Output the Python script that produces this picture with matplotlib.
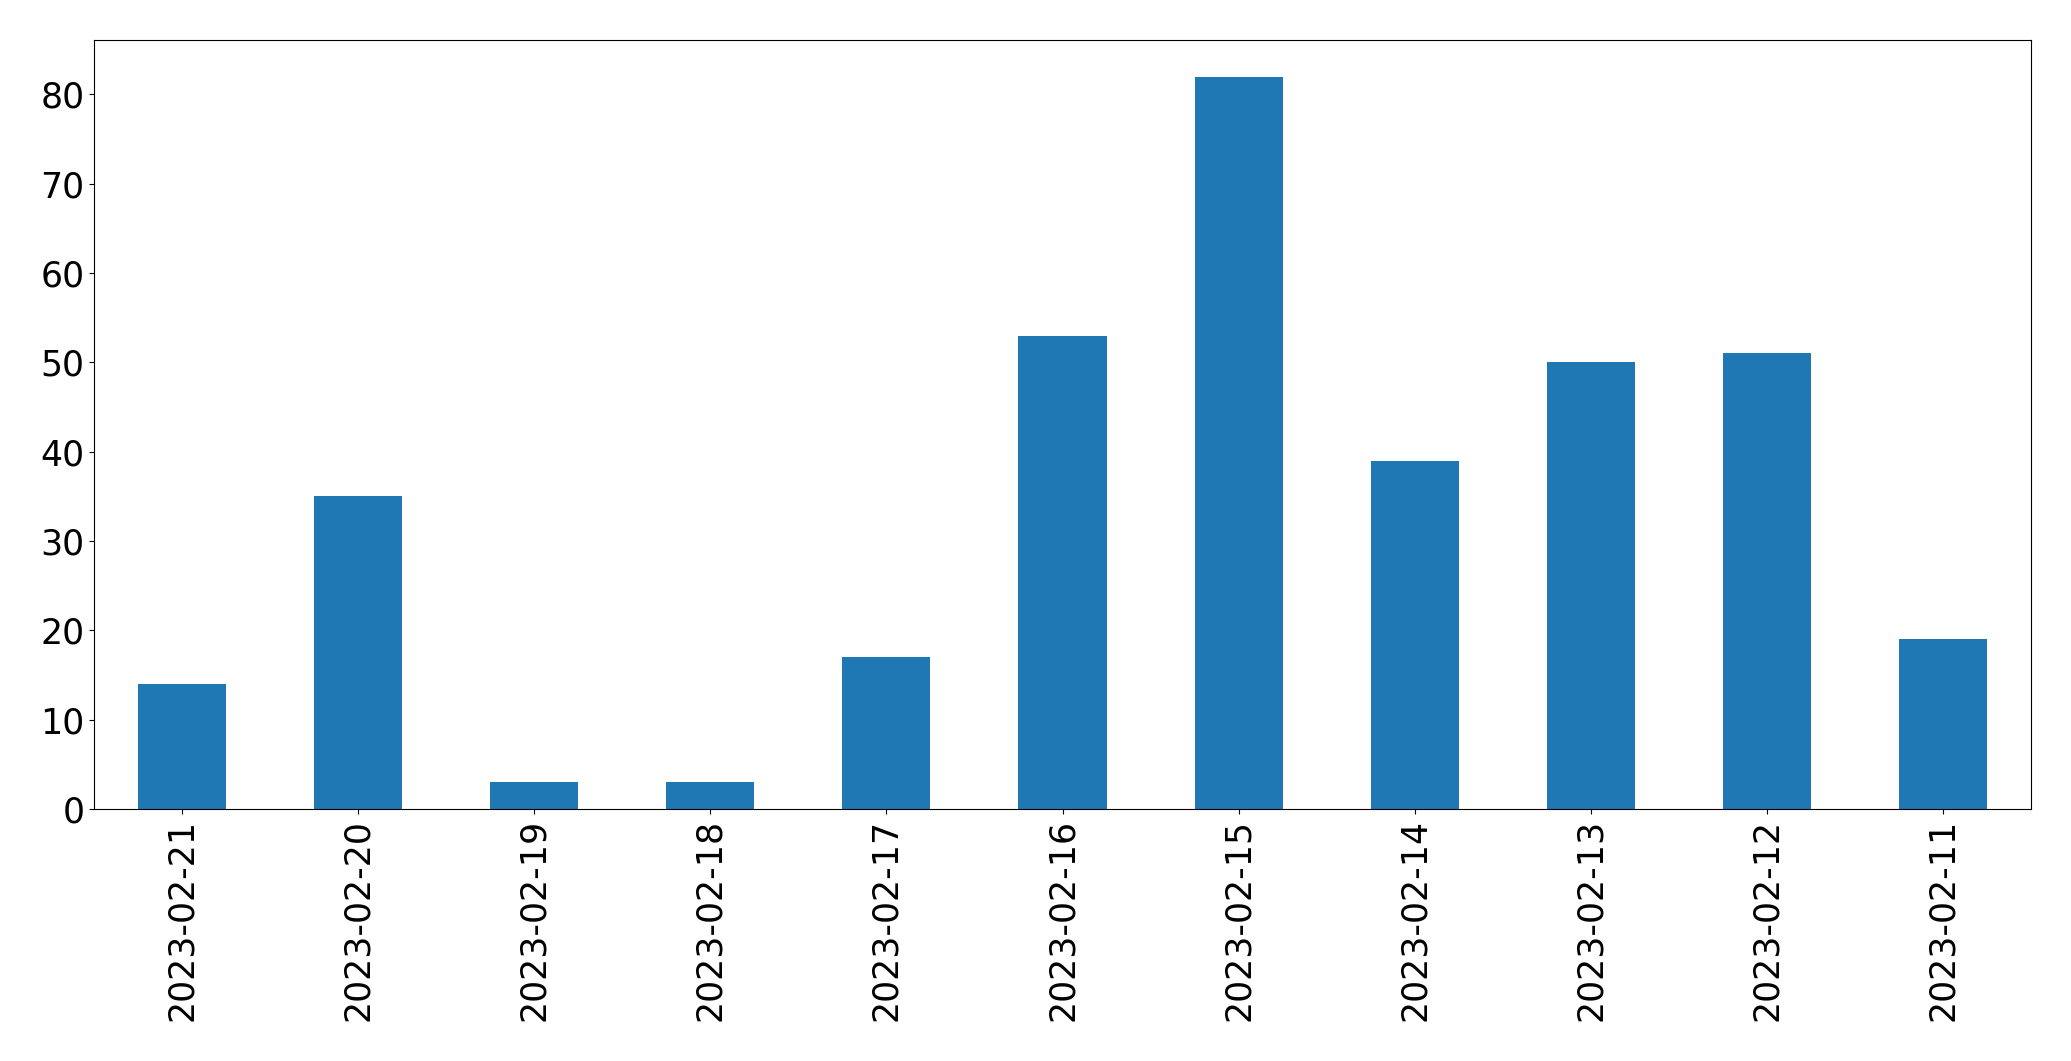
import matplotlib
matplotlib.use("Agg")
import matplotlib.pyplot as plt
import numpy as np

dates = ["2023-02-21", "2023-02-20", "2023-02-19", "2023-02-18", "2023-02-17", "2023-02-16",
         "2023-02-15", "2023-02-14", "2023-02-13", "2023-02-12", "2023-02-11"]
counts = [14, 35, 3, 3, 17, 53, 82, 39, 50, 51, 19]

fig = plt.figure(figsize=(20.71, 10.61), dpi=100)
ax = fig.add_axes([94/2071, 1-809/1061, (2031-94)/2071, (809-40)/1061])
x = np.arange(len(dates))
ax.bar(x, counts, width=0.5, color="#1f77b4")
ax.set_xlim(-0.5, len(dates)-0.5)
ax.set_ylim(0, 86.1)
ax.set_xticks(x)
ax.set_xticklabels(dates, rotation=90)
ax.tick_params(labelsize=25)
fig.savefig("out.png", dpi=100)
